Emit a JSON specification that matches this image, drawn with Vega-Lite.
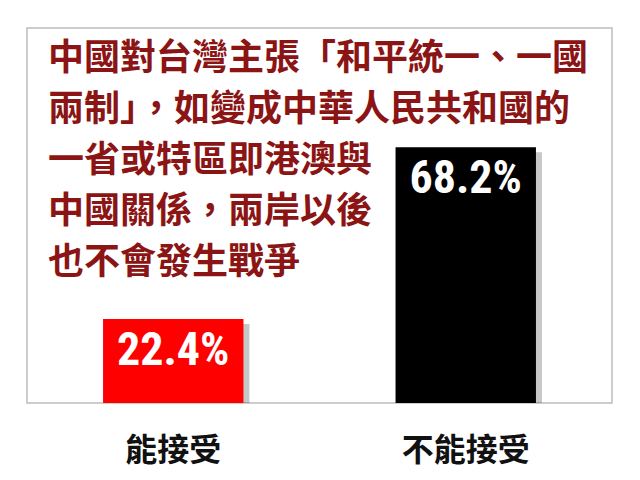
{
  "$schema": "https://vega.github.io/schema/vega-lite/v6.json",
  "width": 585,
  "height": 375,
  "autosize": {"type": "none"},
  "padding": {"left": 27, "top": 28, "right": 28, "bottom": 77},
  "background": "white",
  "title": {
    "text": ["中國對台灣主張「和平統一、一國", "兩制」，如變成中華人民共和國的", "一省或特區即港澳與", "中國關係，兩岸以後", "也不會發生戰爭"],
    "anchor": "start",
    "frame": "group",
    "orient": "top",
    "offset": -254,
    "dx": 21,
    "fontSize": 36,
    "lineHeight": 51,
    "font": "Noto Sans CJK TC",
    "fontWeight": "bold",
    "color": "#8B1414"
  },
  "data": {
    "values": [
      {"category": "能接受", "pct": 22.4, "label": "22.4%"},
      {"category": "不能接受", "pct": 68.2, "label": "68.2%"}
    ]
  },
  "encoding": {
    "x": {
      "field": "category",
      "type": "nominal",
      "sort": null,
      "scale": {"paddingInner": 0.52, "paddingOuter": 0.26},
      "axis": {
        "title": null,
        "labelAngle": 0,
        "labelFontSize": 32,
        "labelFont": "Noto Sans CJK TC",
        "labelFontWeight": "bold",
        "labelColor": "#111111",
        "labelPadding": 32,
        "ticks": false,
        "domain": false,
        "grid": false
      }
    },
    "y": {
      "field": "pct",
      "type": "quantitative",
      "scale": {"domain": [0, 100]},
      "axis": null
    }
  },
  "layer": [
    {
      "mark": {"type": "bar", "color": "#000000", "opacity": 0.22, "xOffset": 6, "yOffset": 5, "clip": true}
    },
    {
      "mark": {"type": "bar"},
      "encoding": {
        "color": {
          "field": "category",
          "type": "nominal",
          "scale": {"domain": ["能接受", "不能接受"], "range": ["#FF0000", "#000000"]},
          "legend": null
        }
      }
    },
    {
      "mark": {"type": "text", "baseline": "middle", "dy": 32, "color": "white", "font": "Liberation Sans Narrow, Roboto Condensed, Roboto, sans-serif", "fontWeight": "bold", "fontSize": 46},
      "encoding": {"text": {"field": "label"}}
    }
  ],
  "config": {"view": {"stroke": "#bdbdbd", "strokeWidth": 1.5}}
}
